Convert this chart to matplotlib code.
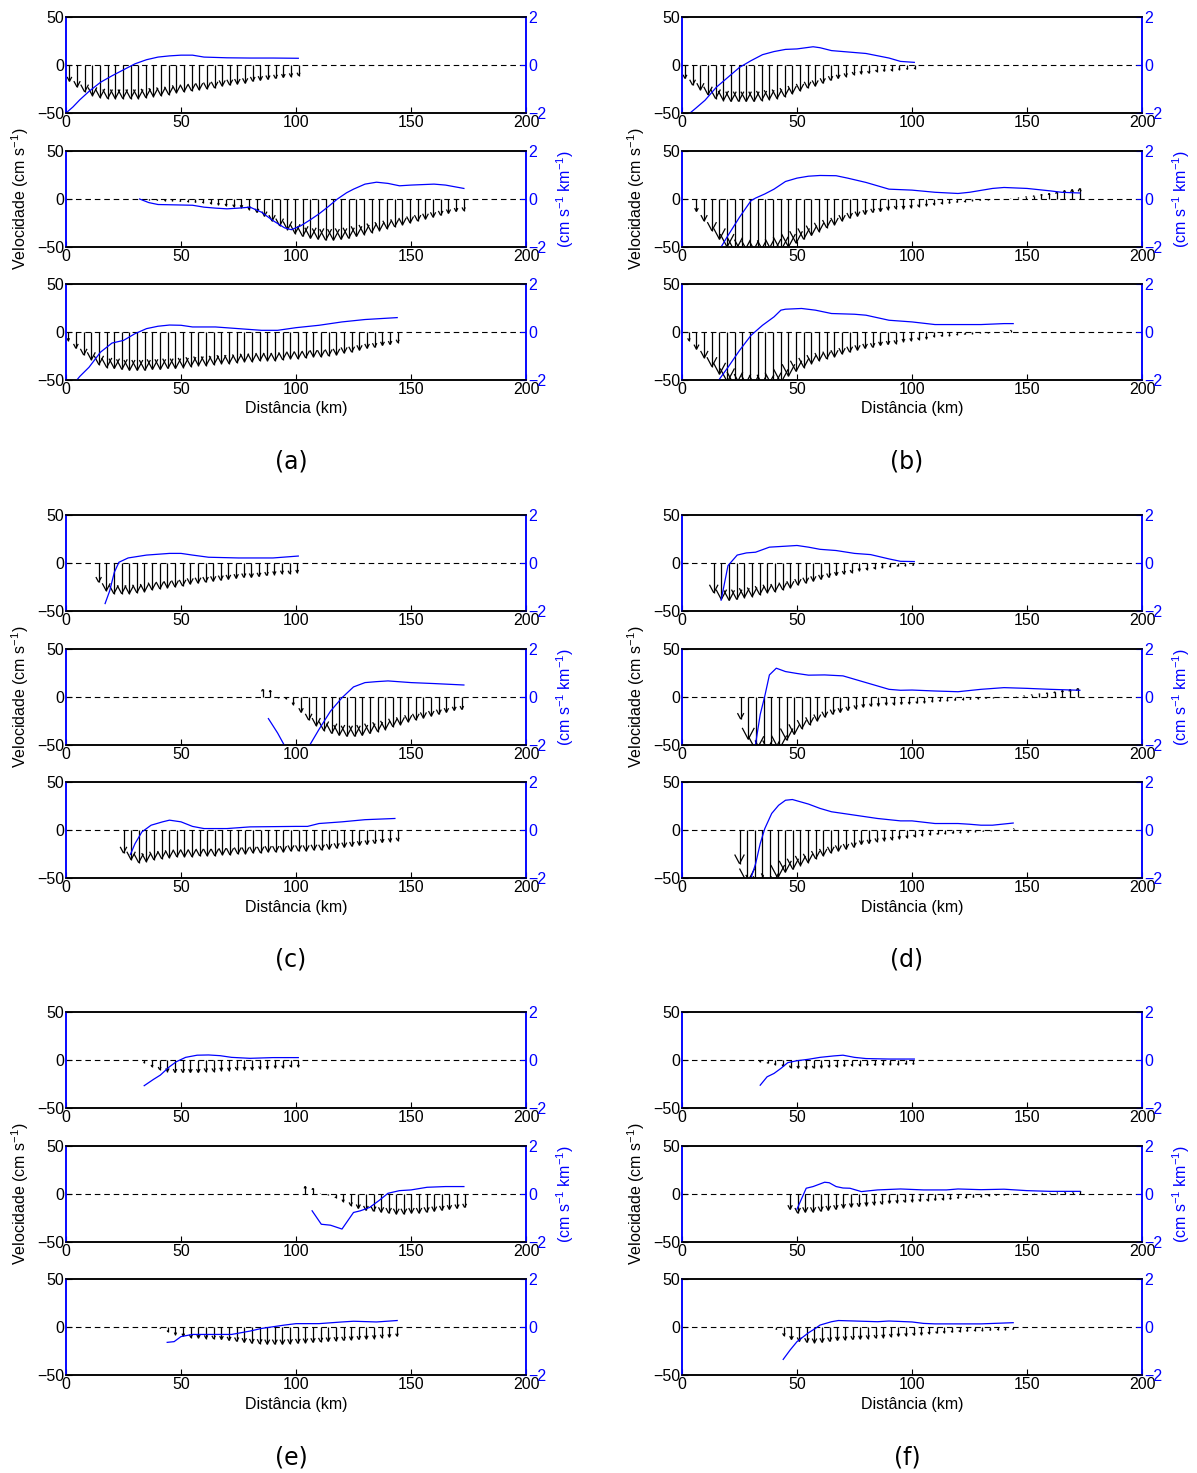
import numpy as np
import matplotlib
matplotlib.use('Agg')
import matplotlib.pyplot as plt
from matplotlib.collections import LineCollection

plt.rcParams['font.family'] = ['Liberation Sans', 'DejaVu Sans']
plt.rcParams['mathtext.fontset'] = 'custom'
plt.rcParams['mathtext.rm'] = 'Liberation Sans'
plt.rcParams['mathtext.it'] = 'Liberation Sans:italic'
plt.rcParams['mathtext.sf'] = 'Liberation Sans'

# ---- data: arrow positions (km) / along-section velocity (cm/s), blue curve (cm s-1 km-1)
# (a)
qx_a1 = [1.5, 4.8, 8.1, 11.5, 14.8, 18.1, 21.4, 24.7, 28.1, 31.4, 34.7, 38.0, 41.3, 44.7, 48.0, 51.3,
         54.6, 57.9, 61.3, 64.6, 67.9, 71.2, 74.5, 77.9, 81.2, 84.5, 87.8, 91.1, 94.5, 97.8, 101.1]
qv_a1 = [-17, -23, -28, -32, -34, -35, -35, -35, -35, -35, -34, -33, -32, -31, -29, -28,
         -27, -26, -25, -24, -22, -21, -20, -19, -17, -16, -15, -14, -13, -12, -11]
gx_a1 = [0, 3, 6, 10, 15, 20, 25, 30, 35, 40, 45, 50, 55, 60, 70, 80, 90, 101]
gy_a1 = [-2.0, -1.75, -1.45, -1.1, -0.72, -0.45, -0.2, 0.05, 0.22, 0.33, 0.38, 0.41, 0.41, 0.33, 0.30, 0.29, 0.29, 0.28]

qx_a2 = [33.0, 36.3, 39.7, 43.0, 46.3, 49.7, 53.0, 56.3, 59.6, 63.0, 66.3, 69.6, 73.0, 76.3, 79.6, 83.0,
         86.3, 89.6, 92.9, 96.3, 99.6, 102.9, 106.3, 109.6, 112.9, 116.3, 119.6, 122.9, 126.3, 129.6,
         132.9, 136.3, 139.6, 142.9, 146.3, 149.6, 152.9, 156.3, 159.6, 162.9, 166.3, 169.6, 172.9]
qv_a2 = [-0.5, -1, -1.5, -2, -2, -2.5, -3, -3.5, -4, -5, -6, -7, -8, -9, -11, -14,
         -18, -23, -28, -32, -36, -39, -41, -42, -43, -43, -42, -41, -39, -37,
         -35, -33, -31, -29, -27, -25, -23, -21, -19, -17, -15, -13, -12]
gx_a2 = [32, 36, 40, 45, 50, 55, 60, 65, 70, 75, 80, 85, 90, 95, 98, 102, 106, 110, 114, 118, 122,
         125, 130, 135, 140, 145, 150, 155, 160, 165, 173]
gy_a2 = [0.0, -0.15, -0.23, -0.24, -0.25, -0.26, -0.34, -0.38, -0.41, -0.38, -0.34, -0.55, -0.9, -1.2,
         -1.28, -1.12, -0.88, -0.62, -0.32, 0.0, 0.26, 0.41, 0.62, 0.70, 0.65, 0.55, 0.58, 0.60, 0.62, 0.58, 0.44]

qx_a3 = [1.0, 4.3, 7.7, 11.0, 14.3, 17.7, 21.0, 24.3, 27.6, 31.0, 34.3, 37.6, 41.0, 44.3, 47.6, 51.0,
         54.3, 57.6, 60.9, 64.3, 67.6, 70.9, 74.3, 77.6, 80.9, 84.3, 87.6, 90.9, 94.2, 97.6, 100.9,
         104.2, 107.6, 110.9, 114.2, 117.6, 120.9, 124.2, 127.6, 130.9, 134.2, 137.6, 140.9, 144.2]
qv_a3 = [-9, -17, -24, -29, -34, -37, -38, -39, -40, -40, -40, -39, -39, -38, -38, -37,
         -36, -35, -35, -34, -33, -33, -32, -31, -31, -30, -30, -30, -29, -28, -28,
         -27, -26, -26, -25, -24, -22, -21, -19, -17, -16, -14, -13, -11]
gx_a3 = [3, 6, 10, 15, 20, 25, 30, 35, 40, 45, 50, 55, 65, 75, 85, 92, 100, 110, 120, 130, 144]
gy_a3 = [-2.2, -1.85, -1.47, -0.84, -0.46, -0.35, -0.07, 0.14, 0.24, 0.29, 0.28, 0.21, 0.21, 0.14,
         0.07, 0.07, 0.18, 0.28, 0.42, 0.52, 0.6]

# (b)
qx_b1 = [1.3, 4.6, 8.0, 11.3, 14.6, 18.0, 21.3, 24.6, 27.9, 31.3, 34.6, 37.9, 41.3, 44.6, 47.9, 51.3,
         54.6, 57.9, 61.2, 64.6, 67.9, 71.2, 74.6, 77.9, 81.2, 84.6, 87.9, 91.2, 94.5, 97.9, 101.2]
qv_b1 = [-14, -21, -26, -31, -35, -37, -38, -38, -38, -38, -37, -36, -35, -33, -30, -27,
         -24, -22, -19, -16, -14, -12, -10, -9, -8.5, -7, -6.5, -6, -5, -4.5, -4]
gx_b1 = [3.5, 6, 10, 15, 20, 25, 30, 35, 40, 45, 50, 57, 60, 65, 70, 80, 90, 95, 101]
gy_b1 = [-2.0, -1.8, -1.47, -0.92, -0.51, -0.1, 0.18, 0.43, 0.56, 0.65, 0.67, 0.76, 0.72, 0.6, 0.56,
         0.48, 0.29, 0.15, 0.11]

qx_b2 = [6.3, 9.6, 13.0, 16.3, 19.6, 23.0, 26.3, 29.6, 32.9, 36.3, 39.6, 42.9, 46.3, 49.6, 52.9, 56.3,
         59.6, 62.9, 66.3, 69.6, 72.9, 76.3, 79.6, 82.9, 86.3, 89.6, 92.9, 96.3, 99.6, 102.9, 106.3,
         109.6, 112.9, 116.3, 119.6, 122.9, 126.3, 129.6, 132.9, 136.3, 139.6, 142.9, 146.3, 149.6,
         152.9, 156.3, 159.6, 162.9, 166.3, 169.6, 172.9]
qv_b2 = [-13, -23, -33, -42, -50, -55, -58, -60, -60, -59, -57, -54, -50, -46, -42, -38,
         -34, -30, -27, -23, -20, -18, -16, -14, -13, -11, -10, -10, -9, -8, -7,
         -6, -5, -4.5, -3.5, -3, -2, -1.5, -1, -0.5, 0, 0.5, 1.5, 2.5,
         3.5, 5, 6, 7.5, 9, 10, 11]
gx_b2 = [17, 20, 25, 30, 32, 36, 40, 45, 50, 55, 60, 67, 72, 80, 90, 100, 110, 120, 125, 135, 140,
         150, 160, 165, 173]
gy_b2 = [-2.0, -1.52, -0.76, -0.07, 0.04, 0.21, 0.41, 0.73, 0.87, 0.95, 0.98, 0.97, 0.87, 0.69, 0.41,
         0.37, 0.28, 0.23, 0.28, 0.44, 0.48, 0.44, 0.34, 0.28, 0.25]

qx_b3 = [3.0, 6.3, 9.7, 13.0, 16.3, 19.7, 23.0, 26.3, 29.6, 33.0, 36.3, 39.6, 43.0, 46.3, 49.6, 53.0,
         56.3, 59.6, 62.9, 66.3, 69.6, 72.9, 76.3, 79.6, 82.9, 86.3, 89.6, 92.9, 96.3, 99.6, 102.9,
         106.3, 109.6, 112.9, 116.3, 119.6, 122.9, 126.3, 129.6, 132.9, 136.3, 139.6, 142.9]
qv_b3 = [-9, -18, -27, -36, -44, -52, -57, -60, -62, -62, -61, -58, -53, -46, -41, -37,
         -33, -30, -28, -26, -23, -21, -19, -17, -16, -14, -13, -12, -10, -9, -8,
         -7, -5, -4.5, -4, -3, -2.5, -2, -1, -1, -0.5, 0.5, 2]
gx_b3 = [16, 20, 25, 30, 35, 40, 43, 45, 52, 58, 65, 75, 80, 90, 100, 110, 120, 130, 140, 144]
gy_b3 = [-2.0, -1.47, -0.77, -0.14, 0.28, 0.63, 0.91, 0.95, 0.98, 0.91, 0.77, 0.74, 0.7, 0.49, 0.42,
         0.31, 0.31, 0.31, 0.35, 0.35]

# (c)
qx_c1 = [14.2, 17.5, 20.8, 24.2, 27.5, 30.8, 34.1, 37.4, 40.8, 44.1, 47.4, 50.7, 54.0, 57.4, 60.7,
         64.0, 67.3, 70.6, 74.0, 77.3, 80.6, 83.9, 87.2, 90.6, 93.9, 97.2, 100.5]
qv_c1 = [-20, -29, -32, -32, -32, -31, -30, -28, -27, -26, -25, -24, -22, -21, -20,
         -19, -18, -17, -16, -15, -15, -14, -13, -12, -11, -11, -10]
gx_c1 = [17, 19, 21, 23, 27, 35, 45, 50, 55, 62, 75, 90, 101]
gy_c1 = [-1.69, -1.16, -0.39, 0.03, 0.21, 0.33, 0.4, 0.4, 0.33, 0.24, 0.21, 0.21, 0.29]

qx_c2 = [85.5, 88.8, 92.2, 95.5, 98.8, 102.2, 105.5, 108.8, 112.1, 115.5, 118.8, 122.1, 125.5, 128.8,
         132.1, 135.5, 138.8, 142.1, 145.4, 148.8, 152.1, 155.4, 158.8, 162.1, 165.4, 168.8, 172.1]
qv_c2 = [8, 7, -1, -2, -8, -16, -24, -30, -35, -38, -40, -41, -41, -40,
         -38, -36, -34, -31, -29, -26, -24, -22, -20, -18, -16, -14, -13]
gx_c2 = [88, 92, 96, np.nan, 104, 106, 110, 115, 120, 125, 130, 135, 140, 150, 160, 173]
gy_c2 = [-0.9, -1.5, -2.2, np.nan, -2.3, -2.0, -1.35, -0.59, -0.03, 0.42, 0.6, 0.64, 0.67, 0.6, 0.56, 0.5]

qx_c3 = [25.0, 28.3, 31.6, 34.9, 38.2, 41.6, 44.9, 48.2, 51.5, 54.8, 58.1, 61.4, 64.7, 68.0, 71.3,
         74.7, 78.0, 81.3, 84.6, 87.9, 91.2, 94.5, 97.8, 101.1, 104.4, 107.8, 111.1, 114.4, 117.7,
         121.0, 124.3, 127.6, 130.9, 134.2, 137.5, 140.9, 144.2]
qv_c3 = [-24, -31, -34, -33, -31, -30, -29, -28, -28, -28, -27, -27, -27, -26, -26,
         -25, -25, -24, -24, -23, -23, -23, -22, -22, -22, -21, -21, -20, -19,
         -18, -17, -16, -15, -14, -13, -12, -11]
gx_c3 = [28, 30, 33, 37, 42, 45, 50, 55, 60, 70, 80, 100, 105, 110, 120, 130, 143]
gy_c3 = [-1.02, -0.57, -0.08, 0.2, 0.34, 0.41, 0.34, 0.15, 0.06, 0.06, 0.13, 0.15, 0.15, 0.27, 0.34, 0.43, 0.48]

# (d)
qx_d1 = [13.8, 17.1, 20.5, 23.8, 27.1, 30.5, 33.8, 37.1, 40.4, 43.8, 47.1, 50.4, 53.8, 57.1, 60.4,
         63.8, 67.1, 70.4, 73.7, 77.1, 80.4, 83.7, 87.1, 90.4, 93.7, 97.1, 100.4]
qv_d1 = [-31, -38, -39, -38, -36, -35, -33, -31, -30, -28, -26, -23, -21, -19, -17,
         -15, -13, -11.5, -10, -8, -7, -6, -5, -4, -3.5, -3, -2.5]
gx_d1 = [17, 20, 24, 28, 32, 38, 45, 50, 55, 60, 67, 75, 82, 90, 95, 101]
gy_d1 = [-1.55, -0.11, 0.33, 0.42, 0.45, 0.66, 0.7, 0.73, 0.66, 0.57, 0.52, 0.4, 0.35, 0.17, 0.07, 0.06]

qx_d2 = [25.5, 28.8, 32.2, 35.5, 38.8, 42.2, 45.5, 48.8, 52.1, 55.5, 58.8, 62.1, 65.5, 68.8, 72.1,
         75.5, 78.8, 82.1, 85.4, 88.8, 92.1, 95.4, 98.8, 102.1, 105.4, 108.8, 112.1, 115.4, 118.7,
         122.1, 125.4, 128.7, 132.1, 135.4, 138.7, 142.1, 145.4, 148.7, 152.0, 155.4, 158.7, 162.0,
         165.4, 168.7, 172.0]
qv_d2 = [-23, -44, -56, -62, -62, -55, -45, -39, -33, -29, -25, -21, -18, -16, -14,
         -12, -10.5, -9.5, -9, -8, -8, -7.5, -7, -6.5, -6, -5, -4.5, -4, -3.5,
         -3, -2.5, -2, -1.5, -1, -0.5, 0, 0.5, 1.5, 2.5, 3.5, 4.5, 5.5,
         7, 8, 9]
gx_d2 = [31.6, 34, 36, 38, 41, 45, 50, 55, 62, 70, 80, 90, 95, 100, 110, 120, 130, 140, 150, 160, 173]
gy_d2 = [-2.2, -0.73, 0.04, 0.92, 1.2, 1.06, 0.98, 0.91, 0.92, 0.88, 0.6, 0.32, 0.28, 0.29, 0.25, 0.22,
         0.32, 0.39, 0.36, 0.32, 0.28]

qx_d3 = [25.0, 28.3, 31.6, 34.9, 38.2, 41.6, 44.9, 48.2, 51.5, 54.8, 58.1, 61.4, 64.7, 68.0, 71.3,
         74.7, 78.0, 81.3, 84.6, 87.9, 91.2, 94.5, 97.8, 101.1, 104.4, 107.8, 111.1, 114.4, 117.7,
         121.0, 124.3, 127.6, 130.9, 134.2, 137.5, 140.9, 144.2]
qv_d3 = [-35, -55, -64, -66, -62, -50, -44, -41, -37, -34, -30, -27, -24, -22, -20,
         -18, -15, -14, -12, -11, -10, -9, -8, -7, -6, -5, -4.5, -4, -3.5,
         -3, -2.5, -2, -1.5, -1, -0.5, 0, 1.5]
gx_d3 = [30, 32, 34, 36, 39, 42, 45, 48, 55, 60, 65, 75, 85, 95, 100, 110, 120, 125, 130, 135, 144]
gy_d3 = [-2.0, -1.41, -0.57, 0.06, 0.69, 1.03, 1.24, 1.27, 1.08, 0.9, 0.76, 0.62, 0.48, 0.38, 0.38,
         0.27, 0.27, 0.24, 0.2, 0.2, 0.29]

# (e)
qx_e1 = [34.0, 37.4, 40.7, 44.1, 47.4, 50.8, 54.1, 57.5, 60.8, 64.2, 67.5, 70.9, 74.2, 77.6, 80.9,
         84.3, 87.6, 91.0, 94.3, 97.7, 101.0]
qv_e1 = [-3, -7, -10, -12, -13, -13, -13, -13, -12, -12, -11, -11, -10, -10, -10,
         -9, -9, -8, -8, -7, -7]
gx_e1 = [34, 38, 41, 45, 48, 52, 57, 62, 67, 72, 80, 90, 101]
gy_e1 = [-1.07, -0.81, -0.63, -0.28, -0.07, 0.11, 0.2, 0.21, 0.18, 0.11, 0.07, 0.1, 0.1]

qx_e2 = [104.0, 107.3, 110.6, 113.9, 117.2, 120.5, 123.8, 127.1, 130.4, 133.7, 137.0, 140.3, 143.6,
         146.9, 150.2, 153.5, 156.8, 160.1, 163.4, 166.7, 170.0, 173.3]
qv_e2 = [8, 6, 0.5, -1, -4, -8, -12, -15, -17, -18, -19, -20, -21,
         -21, -20, -20, -19, -18, -17, -16, -15, -14]
gx_e2 = [107, 111, 115, 120, 125, 128, 132, 136, 140, 145, 150, 157, 165, 173]
gy_e2 = [-0.7, -1.26, -1.3, -1.46, -0.77, -0.7, -0.56, -0.28, 0.03, 0.14, 0.17, 0.28, 0.31, 0.31]

qx_e3 = [41.0, 44.3, 47.6, 51.0, 54.3, 57.6, 60.9, 64.2, 67.6, 70.9, 74.2, 77.5, 80.8, 84.2, 87.5,
         90.8, 94.1, 97.4, 100.8, 104.1, 107.4, 110.7, 114.0, 117.4, 120.7, 124.0, 127.3, 130.6,
         134.0, 137.3, 140.6, 143.9]
qv_e3 = [-1.5, -5, -8, -9.5, -11, -11.5, -12, -12.5, -13, -14, -15, -16, -17, -17.5, -18,
         -18, -18, -17.5, -17, -16.5, -16, -15.5, -15, -14.5, -14, -13.5, -13, -12.5,
         -12, -11, -10.5, -9.5]
gx_e3 = [44, 47, 50, 55, 60, 65, 72, 80, 85, 90, 95, 100, 110, 120, 125, 135, 144]
gy_e3 = [-0.64, -0.61, -0.4, -0.31, -0.31, -0.31, -0.31, -0.17, -0.06, 0.01, 0.08, 0.14, 0.14, 0.21,
         0.24, 0.21, 0.27]

# (f)
qx_f1 = [30.5, 33.8, 37.2, 40.5, 43.9, 47.2, 50.5, 53.9, 57.2, 60.6, 63.9, 67.2, 70.6, 73.9, 77.3,
         80.6, 83.9, 87.3, 90.6, 94.0, 97.3, 100.6]
qv_f1 = [-0.5, -2, -3.5, -5, -6.5, -8, -8.5, -9, -8.5, -8, -7.5, -7, -6.5, -6, -6,
         -5.5, -5.5, -5, -5, -5, -4.5, -4.5]
gx_f1 = [34, 37, 40, 43, 46, 50, 55, 60, 66, 70, 75, 80, 90, 101]
gy_f1 = [-1.05, -0.7, -0.56, -0.35, -0.11, -0.03, 0.03, 0.11, 0.17, 0.2, 0.11, 0.06, 0.04, 0.04]

qx_f2 = [47.0, 50.3, 53.6, 57.0, 60.3, 63.6, 66.9, 70.2, 73.6, 76.9, 80.2, 83.5, 86.8, 90.2, 93.5,
         96.8, 100.1, 103.4, 106.8, 110.1, 113.4, 116.7, 120.0, 123.4, 126.7, 130.0, 133.3, 136.6,
         140.0, 143.3, 146.6, 149.9, 153.2, 156.6, 159.9, 163.2, 166.5, 169.8, 173.2]
qv_f2 = [-16, -20, -19, -19, -18, -17, -16, -14.5, -13.5, -13, -12, -11, -10.5, -9.5, -9,
         -8.5, -8, -7.5, -7, -6.5, -6, -5.5, -4.5, -4, -3.5, -3, -2, -1.5,
         -1, -0.5, 0, 0, 0.5, 1, 1, 1.5, 2, 2.5, 3]
gx_f2 = [50, 54, 57, 62, 64, 67, 70, 73, 78, 85, 95, 105, 115, 120, 130, 140, 150, 160, 173]
gy_f2 = [-0.63, 0.24, 0.31, 0.49, 0.47, 0.31, 0.25, 0.24, 0.1, 0.17, 0.21, 0.17, 0.17, 0.21, 0.18,
         0.2, 0.14, 0.11, 0.11]

qx_f3 = [41.0, 44.3, 47.6, 51.0, 54.3, 57.6, 60.9, 64.2, 67.6, 70.9, 74.2, 77.5, 80.8, 84.2, 87.5,
         90.8, 94.1, 97.4, 100.8, 104.1, 107.4, 110.7, 114.0, 117.4, 120.7, 124.0, 127.3, 130.6,
         134.0, 137.3, 140.6, 143.9]
qv_f3 = [-2.5, -9, -13, -15, -16, -16.5, -16, -15, -14, -13.5, -13, -12.5, -12, -11.5, -11,
         -10, -9.5, -9, -8.5, -8, -7, -6.5, -6, -5.5, -5, -4.5, -4, -4,
         -3.5, -3, -3, -2.5]
gx_f3 = [44, 47, 50, 55, 58, 60, 65, 68, 75, 85, 90, 100, 105, 110, 120, 130, 144]
gy_f3 = [-1.35, -0.96, -0.61, -0.24, -0.06, 0.08, 0.22, 0.27, 0.25, 0.22, 0.25, 0.21, 0.15, 0.13, 0.13,
         0.13, 0.18]

panels = ['(a)', '(b)', '(c)', '(d)', '(e)', '(f)']
rows = {
    '(a)': [(qx_a1, qv_a1, gx_a1, gy_a1), (qx_a2, qv_a2, gx_a2, gy_a2), (qx_a3, qv_a3, gx_a3, gy_a3)],
    '(b)': [(qx_b1, qv_b1, gx_b1, gy_b1), (qx_b2, qv_b2, gx_b2, gy_b2), (qx_b3, qv_b3, gx_b3, gy_b3)],
    '(c)': [(qx_c1, qv_c1, gx_c1, gy_c1), (qx_c2, qv_c2, gx_c2, gy_c2), (qx_c3, qv_c3, gx_c3, gy_c3)],
    '(d)': [(qx_d1, qv_d1, gx_d1, gy_d1), (qx_d2, qv_d2, gx_d2, gy_d2), (qx_d3, qv_d3, gx_d3, gy_d3)],
    '(e)': [(qx_e1, qv_e1, gx_e1, gy_e1), (qx_e2, qv_e2, gx_e2, gy_e2), (qx_e3, qv_e3, gx_e3, gy_e3)],
    '(f)': [(qx_f1, qv_f1, gx_f1, gy_f1), (qx_f2, qv_f2, gx_f2, gy_f2), (qx_f3, qv_f3, gx_f3, gy_f3)],
}

W, H = 1197, 1473
fig = plt.figure(figsize=(W / 100, H / 100), dpi=100)

col_left = [66, 682]
group_top = [17, 515, 1012]
row_off = [0, 134, 267]
AX_W, AX_H = 460, 96
FS = 11.5


def arrows(ax, x, v):
    # matlab-quiver-like arrows: shaft from 0 plus open head
    segs = []
    for xi, vi in zip(x, v):
        hl = 0.27 * vi
        hw = 0.06 * abs(vi)
        segs.append([(xi, 0), (xi, vi)])
        segs.append([(xi - hw, vi - hl), (xi, vi)])
        segs.append([(xi + hw, vi - hl), (xi, vi)])
    ax.add_collection(LineCollection(segs, colors='k', linewidths=0.9))


for k, p in enumerate(panels):
    col, grp = k % 2, k // 2
    x0 = col_left[col]
    for r, (qx, qv, gx, gy) in enumerate(rows[p]):
        top = group_top[grp] + row_off[r]
        ax = fig.add_axes([x0 / W, 1 - (top + AX_H) / H, AX_W / W, AX_H / H])
        ax.plot([0, 200], [0, 0], color='k', lw=0.8, ls=(0, (5, 3.5)))
        arrows(ax, qx, qv)
        ax.set_xlim(0, 200)
        ax.set_ylim(-50, 50)
        ax.set_xticks([0, 50, 100, 150, 200])
        ax.set_yticks([-50, 0, 50])
        ax.tick_params(direction='in', length=4, width=0.8, labelsize=FS, pad=1.5)

        ax2 = ax.twinx()
        ax2.plot(gx, gy, color='b', lw=0.9)
        ax2.set_ylim(-2, 2)
        ax2.set_yticks([-2, 0, 2])
        ax2.tick_params(axis='y', direction='in', length=4, width=0.8, colors='b',
                        labelsize=FS, pad=1.5)
        for a in (ax, ax2):
            a.spines['left'].set_color('b')
            a.spines['right'].set_color('b')
            for s in a.spines.values():
                s.set_linewidth(1.1)

        if r == 2:
            fig.text((x0 + AX_W / 2) / W, 1 - (top + AX_H + 29) / H, 'Distância (km)',
                     ha='center', va='center', fontsize=FS)

    mid = group_top[grp] + row_off[1] + AX_H / 2
    fig.text((x0 - 46) / W, 1 - mid / H, 'Velocidade (cm s$^{-1}$)', rotation=90,
             ha='center', va='center', fontsize=FS)
    fig.text((x0 + 499) / W, 1 - mid / H, '(cm s$^{-1}$ km$^{-1}$)', rotation=90,
             ha='center', va='center', fontsize=FS, color='b')
    fig.text((x0 + 225) / W, 1 - (group_top[grp] + 445) / H, p,
             ha='center', va='center', fontsize=17, family='DejaVu Sans')

fig.savefig('out.png', dpi=100)
